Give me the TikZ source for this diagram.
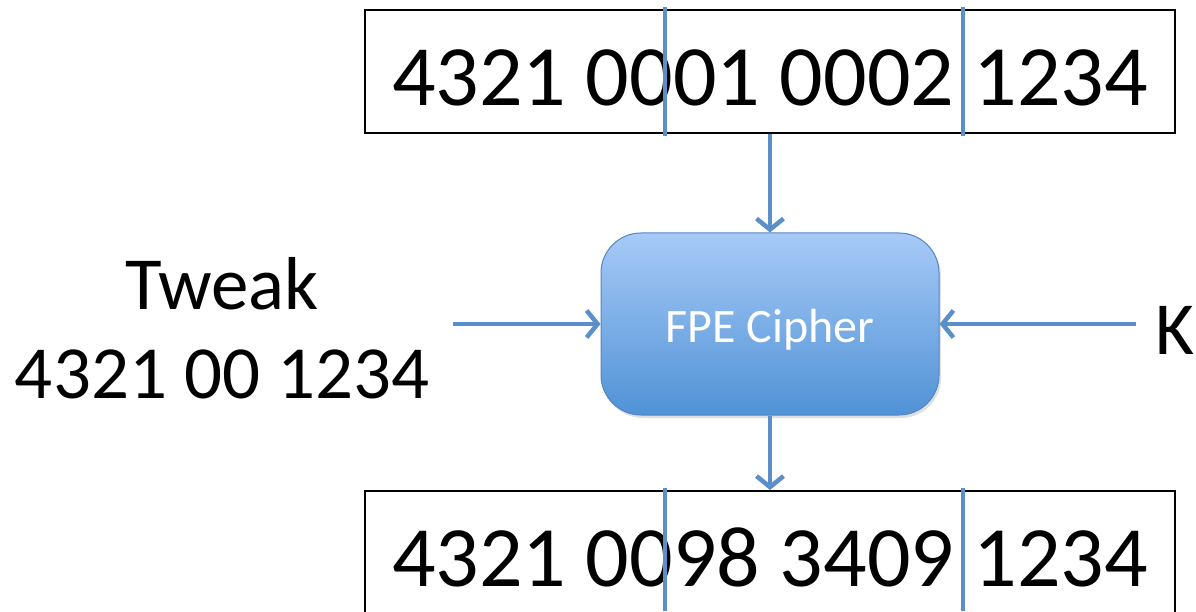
\documentclass[tikz,border=0pt]{standalone}
\usepackage{fontspec}
\setmainfont{Carlito}
\usetikzlibrary{arrows.meta,positioning,shadows}
\definecolor{fpeblue}{RGB}{91,143,201}
\definecolor{fpetop}{RGB}{167,202,247}
\definecolor{fpebot}{RGB}{80,146,214}
\definecolor{fpeedge}{RGB}{84,134,194}

\begin{document}
\begin{tikzpicture}[x=1pt,y=1pt,
    numbox/.style={draw,line width=1.5pt,minimum width=810pt,minimum height=123pt,inner sep=0pt,
                   font=\fontsize{86}{96}\selectfont,text height=68pt,text depth=0pt},
    cipher/.style={draw=fpeedge,line width=1pt,rounded corners=40pt,top color=fpetop,bottom color=fpebot,
                   minimum width=338pt,minimum height=182pt,text=white,font=\fontsize{48}{56}\selectfont,
                   text height=38pt,text depth=0pt,
                   drop shadow={shadow xshift=2pt,shadow yshift=-3pt,opacity=0.25}},
    lbl/.style={font=\fontsize{75}{88}\selectfont,inner sep=0pt},
    flow/.style={draw=fpeblue,line width=4.5pt,-{Straight Barb[length=11pt,width=27pt]}},
    divider/.style={draw=fpeblue,line width=4pt}]
  \useasboundingbox (0,0) rectangle (1196,611);
  % plaintext, cipher, ciphertext
  \node[numbox] (top) at (770,539.5) {4321 0001 0002 1234};
  \node[cipher] (fpe) at (770,287) {FPE Cipher};
  \node[numbox,anchor=north] (bot) at (770,121) {4321 0098 3409 1234};
  \foreach \dx in {665,963}{
    \draw[divider] (\dx,604) -- (\dx,475);
    \draw[divider] (\dx,123) -- (\dx,0);
  }
  % tweak and key
  \node[lbl,anchor=base] (tweak) at (222,301) {Tweak};
  \node[lbl,anchor=base] (tweakval) at (222,213) {4321 00 1234};
  \node[lbl,anchor=base west] (key) at (1155,256) {K};
  \coordinate (tw) at (453,287);
  \coordinate (kin) at (1136,287);
  \draw[flow] (top) -- (fpe);
  \draw[flow] (fpe) -- (bot);
  \draw[flow] (tw) -- (fpe);
  \draw[flow] (kin) -- (fpe);
\end{tikzpicture}
\end{document}
